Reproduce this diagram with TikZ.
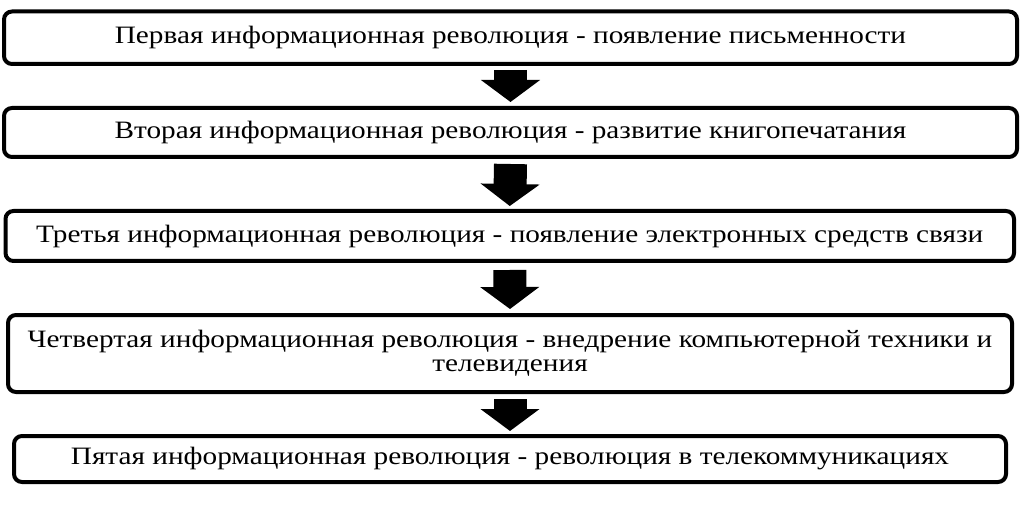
\documentclass[tikz,border=0pt]{standalone}
\usepackage{fontspec}
\setmainfont{Liberation Serif}
\newfontfamily\widefont[FakeStretch=1.17]{Liberation Serif}
\usetikzlibrary{arrows.meta}
\tikzset{
  box/.style={draw=black, line width=4pt, rounded corners=8pt, inner sep=0pt,
    align=center, font=\widefont\fontsize{25}{24}\selectfont},
  bigarrow/.style={draw=black, line width=33pt,
    -{Triangle[width=58pt,length=22pt]}}
}
\begin{document}
\begin{tikzpicture}[x=1pt,y=-1pt]
\useasboundingbox (0,0) rectangle (1035,510);
\node[box, minimum width=1013pt, minimum height=52.5pt] (b1) at (510.5,37.75)
  {Первая информационная революция - появление письменности};
\node[box, minimum width=1013pt, minimum height=49pt] (b2) at (510.5,132.5)
  {Вторая информационная революция - развитие книгопечатания};
\node[box, minimum width=1008.5pt, minimum height=50pt] (b3) at (509.75,236)
  {Третья информационная революция - появление электронных средств связи};
\node[box, minimum width=1004pt, minimum height=77pt] (b4) at (510,353.5)
  {Четвертая информационная революция - внедрение компьютерной техники и\\телевидения};
\node[box, minimum width=992pt, minimum height=46pt] (b5) at (510,459)
  {Пятая информационная революция - революция в телекоммуникациях};
\draw[bigarrow] ([yshift=-4pt]b1.south) -- ([yshift=4pt]b2.north);
\draw[bigarrow] ([yshift=-5pt]b2.south) -- ([yshift=3pt]b3.north);
\draw[bigarrow] ([yshift=-7pt]b3.south) -- ([yshift=4pt]b4.north);
\draw[bigarrow] ([yshift=-5pt]b4.south) -- ([yshift=3pt]b5.north);
\end{tikzpicture}
\end{document}
